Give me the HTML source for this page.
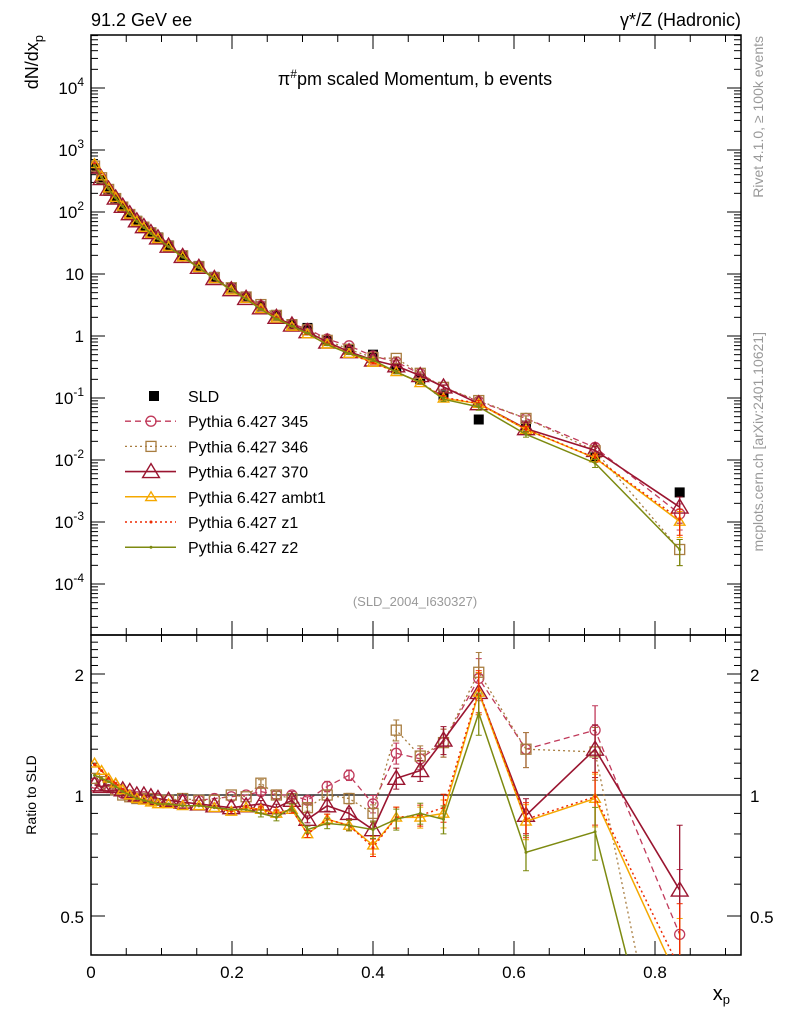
<!DOCTYPE html>
<html><head><meta charset="utf-8"><style>
body{margin:0;background:#fff;font-family:"Liberation Sans",sans-serif;overflow:hidden}
svg{display:block}
svg text{font-family:"Liberation Sans",sans-serif}
</style></head><body>
<svg id="c" width="786" height="1024" xmlns="http://www.w3.org/2000/svg"></svg>
<script>
const xVals=[0.005,0.015,0.025,0.035,0.045,0.055,0.065,0.075,0.085,0.095,0.11,0.13,0.153,0.175,0.199,0.22,0.241,0.263,0.285,0.307,0.335,0.366,0.4,0.433,0.467,0.5,0.55,0.617,0.715,0.835];
const sldVals=[500,330,220,160,120,92,72,58,47,39,29,20,13.5,9,6,4.3,3.0,2.15,1.55,1.35,0.85,0.62,0.5,0.3,0.2,0.11,0.045,0.036,0.011,0.003];
const relErr=[0.01,0.01,0.01,0.01,0.01,0.01,0.01,0.01,0.01,0.01,0.01,0.01,0.01,0.01,0.015,0.015,0.02,0.02,0.02,0.02,0.03,0.03,0.05,0.06,0.06,0.08,0.12,0.1,0.15,0.45];
const r345=[1.07,1.06,1.05,1.03,1.01,1.0,0.99,0.99,0.98,0.98,0.97,0.97,0.97,0.98,0.99,1.0,1.02,1.0,1.0,0.97,1.05,1.12,0.95,1.27,1.23,1.35,1.95,1.3,1.45,0.45];
const r346=[1.1,1.08,1.05,1.03,1.0,0.99,0.98,0.98,0.98,0.97,0.97,0.98,0.97,0.97,1.0,0.99,1.07,1.0,0.98,0.93,1.0,0.98,0.9,1.45,1.25,1.35,2.02,1.3,1.28,0.12];
const r370=[1.06,1.05,1.06,1.05,1.03,1.02,1.0,1.0,0.99,0.98,0.97,0.96,0.95,0.94,0.93,0.94,0.95,0.93,0.97,0.87,0.94,0.9,0.82,1.1,1.15,1.37,1.8,0.89,1.3,0.58];
const rAmbt1=[1.2,1.15,1.1,1.07,1.03,1.0,0.98,0.97,0.96,0.95,0.95,0.94,0.94,0.93,0.91,0.93,0.92,0.9,0.92,0.8,0.87,0.84,0.75,0.88,0.88,0.9,1.8,0.86,0.98,0.34];
const rZ1=[1.19,1.15,1.1,1.07,1.03,1.0,0.98,0.97,0.96,0.95,0.95,0.94,0.94,0.93,0.91,0.93,0.92,0.9,0.92,0.8,0.87,0.84,0.74,0.88,0.89,0.93,1.82,0.87,0.99,0.37];
const rZ2=[1.12,1.1,1.08,1.05,1.02,1.0,0.98,0.97,0.96,0.95,0.95,0.94,0.94,0.93,0.92,0.92,0.9,0.88,0.93,0.82,0.85,0.84,0.82,0.87,0.9,0.87,1.6,0.72,0.81,0.12];
const xTicks=[0,0.2,0.4,0.6,0.8];
const yTickExp=[-4,-3,-2,-1,0,1,2,3,4];
const rTicks=[0.5,1,2];

const S=document.getElementById('c'),NS='http://www.w3.org/2000/svg';
const X0=91,X1=741,T0=35,T1=635,R0=635,R1=955;
const xs=v=>X0+v*705;
const ys=v=>336-62*Math.log10(v);
const yr=v=>795-121*Math.log2(v);
function mk(tag,at,name,par){const e=document.createElementNS(NS,tag);for(const k in at)e.setAttribute(k,at[k]);


(par||S).appendChild(e);return e;}
function tx(x,y,s,name,o){const e=mk('text',Object.assign({x:x,y:y,'font-size':16,fill:'#000'},o||{}),name);e.innerHTML=s;return e;}
const defs=mk('defs',{},'defs');
const c1=mk('clipPath',{id:'cp1'},'clip-top',defs);mk('rect',{x:X0,y:T0,width:X1-X0,height:T1-T0},'clip-rect',c1);
const c2=mk('clipPath',{id:'cp2'},'clip-ratio',defs);mk('rect',{x:X0,y:R0,width:X1-X0,height:R1-R0},'clip-rect',c2);
mk('rect',{x:X0,y:T0,width:X1-X0,height:T1-T0,fill:'none',stroke:'#000','stroke-width':1.5},'main-frame');
mk('rect',{x:X0,y:R0,width:X1-X0,height:R1-R0,fill:'none',stroke:'#000','stroke-width':1.5},'ratio-frame');
for(let v=0;v<=0.92;v+=0.05){const X=xs(v),maj=Math.abs(v*10-Math.round(v*10))<1e-6&&Math.round(v*10)%2==0;const L=maj?14:7;
for(const [a,b] of [[T1,T1-L],[T0,T0+L],[R1,R1-L],[R0,R0+L]])mk('line',{x1:X,x2:X,y1:a,y2:b,stroke:'#000'},'x-tick');}
xTicks.forEach(v=>tx(xs(v),978,v==0?'0':v.toFixed(1),'x-tick-label',{'text-anchor':'middle','font-size':17}));
for(let e=-5;e<=4;e++){for(let m=1;m<10;m++){const v=m*Math.pow(10,e);const Y=ys(v);if(Y<T0||Y>T1)continue;const L=m==1?14:7;
mk('line',{x1:X0,x2:X0+L,y1:Y,y2:Y,stroke:'#000'},'y-tick');mk('line',{x1:X1,x2:X1-L,y1:Y,y2:Y,stroke:'#000'},'y-tick');}}
yTickExp.forEach(e=>{const Y=ys(Math.pow(10,e))+6;let s=e==0?'1':e==1?'10':'10<tspan dy="-8" font-size="12">'+e+'</tspan>';tx(84,Y,s,'y-tick-label',{'text-anchor':'end','font-size':17});});
for(let v=0.4;v<=2.5;v+=0.1){const Y=yr(v);if(Y<R0||Y>R1)continue;const maj=[0.5,1,2].some(t=>Math.abs(t-v)<1e-6);const L=maj?14:7;
mk('line',{x1:X0,x2:X0+L,y1:Y,y2:Y,stroke:'#000'},'ratio-tick');mk('line',{x1:X1,x2:X1-L,y1:Y,y2:Y,stroke:'#000'},'ratio-tick');}
rTicks.forEach(v=>{tx(84,yr(v)+7,String(v),'ratio-tick-label',{'text-anchor':'end','font-size':17});tx(750,yr(v)+7,String(v),'ratio-tick-label-right',{'font-size':17});});
mk('line',{x1:X0,x2:X1,y1:yr(1),y2:yr(1),stroke:'#000','stroke-width':1.3},'ratio-unity-line');
tx(91,26,'91.2 GeV ee','energy-label',{'font-size':18});
tx(741,26,'γ*/Z (Hadronic)','process-label',{'font-size':18,'text-anchor':'end'});
tx(415,85,'π<tspan dy="-7" font-size="12">#</tspan><tspan dy="7">pm scaled Momentum, b events</tspan>','plot-title',{'font-size':18,'text-anchor':'middle'});
tx(415,606,'(SLD_2004_I630327)','analysis-id',{'font-size':13,fill:'#999','text-anchor':'middle'});
tx(730,1000,'x<tspan dy="4" font-size="13">p</tspan>','x-axis-title',{'font-size':20,'text-anchor':'end'});
tx(0,0,'dN/dx<tspan dy="5" font-size="13">p</tspan>','y-axis-title',{'font-size':18,'text-anchor':'end',transform:'translate(38,35) rotate(-90)'});
tx(0,0,'Ratio to SLD','ratio-axis-title',{'font-size':14,'text-anchor':'middle',transform:'translate(36,795) rotate(-90)'});
tx(0,0,'Rivet 4.1.0, ≥ 100k events','rivet-label',{'font-size':14,fill:'#999','text-anchor':'end',transform:'translate(763,36) rotate(-90)'});
tx(0,0,'mcplots.cern.ch [arXiv:2401.10621]','mcplots-label',{'font-size':14,fill:'#999','text-anchor':'end',transform:'translate(763,332) rotate(-90)'});
const gd=mk('g',{'clip-path':'url(#cp1)'},'sld-data');
xVals.forEach((x,i)=>{const X=xs(x),Y=ys(sldVals[i]);mk('rect',{x:X-5,y:Y-5,width:10,height:10,fill:'#000'},'sld-point',gd);});
const series=[
{n:'pythia-345',r:r345,c:'#c0395a',d:'6,4',m:'circle',sz:5,w:1.3},
{n:'pythia-346',r:r346,c:'#a87d40',d:'2,3',m:'square',sz:5,w:1.3},
{n:'pythia-370',r:r370,c:'#9a1530',d:'',m:'tri',sz:8,w:1.6},
{n:'pythia-ambt1',r:rAmbt1,c:'#f5a800',d:'',m:'tri',sz:5,w:1.5},
{n:'pythia-z1',r:rZ1,c:'#ee2a00',d:'2,3',m:'dot',sz:1.5,w:1.5},
{n:'pythia-z2',r:rZ2,c:'#7d8a10',d:'',m:'dot',sz:1.5,w:1.5}];
function marker(g,m,X,Y,sz,c,name){
if(m=='circle')mk('circle',{cx:X,cy:Y,r:sz,fill:'none',stroke:c,'stroke-width':1.3},name,g);
else if(m=='square')mk('rect',{x:X-sz,y:Y-sz,width:2*sz,height:2*sz,fill:'none',stroke:c,'stroke-width':1.3},name,g);
else if(m=='tri')mk('polygon',{points:`${X},${Y-sz} ${X-sz*1.05},${Y+sz*0.75} ${X+sz*1.05},${Y+sz*0.75}`,fill:'none',stroke:c,'stroke-width':1.4},name,g);
else mk('circle',{cx:X,cy:Y,r:sz,fill:c},name,g);}
series.forEach(s=>{
 for(const panel of ['top','ratio']){
  const g=mk('g',{'clip-path':panel=='top'?'url(#cp1)':'url(#cp2)'},s.n+'-'+panel);
  const yf=i=>panel=='top'?ys(Math.max(sldVals[i]*s.r[i],1e-9)):yr(Math.max(s.r[i],1e-3));
  const pts=xVals.map((x,i)=>xs(x)+','+yf(i)).join(' ');
  mk('polyline',{points:pts,fill:'none',stroke:s.c,'stroke-width':s.w,'stroke-dasharray':s.d},s.n+'-line',g);
  xVals.forEach((x,i)=>{const X=xs(x);const e=relErr[i];
   const v=panel=='top'?sldVals[i]*s.r[i]:s.r[i];const f=panel=='top'?ys:yr;
   if(e>0.015){const lo=Math.max(v*(1-e),1e-9),hi=v*(1+e);
    mk('line',{x1:X,x2:X,y1:f(lo),y2:f(hi),stroke:s.c,'stroke-width':1.3},s.n+'-error-bar',g);
    mk('line',{x1:X-3,x2:X+3,y1:f(lo),y2:f(lo),stroke:s.c},s.n+'-error-cap',g);
    mk('line',{x1:X-3,x2:X+3,y1:f(hi),y2:f(hi),stroke:s.c},s.n+'-error-cap',g);}
   marker(g,s.m,X,f(v),s.sz,s.c,s.n+'-marker');});
 }});
const leg=[['SLD','sld'],['Pythia 6.427 345',0],['Pythia 6.427 346',1],['Pythia 6.427 370',2],['Pythia 6.427 ambt1',3],['Pythia 6.427 z1',4],['Pythia 6.427 z2',5]];
leg.forEach((l,k)=>{const Y=396+k*25.2;const g=mk('g',{},'legend-entry');
 if(l[1]==='sld')mk('rect',{x:149,y:Y-5,width:10,height:10,fill:'#000'},'legend-marker',g);
 else{const s=series[l[1]];mk('line',{x1:125,x2:176,y1:Y,y2:Y,stroke:s.c,'stroke-width':s.w,'stroke-dasharray':s.d},'legend-line',g);marker(g,s.m,151,Y,s.sz,s.c,'legend-marker');}
 const t=tx(188,Y+6,l[0],'legend-label',{'font-size':16});g.appendChild(t);});
</script>
</body></html>
